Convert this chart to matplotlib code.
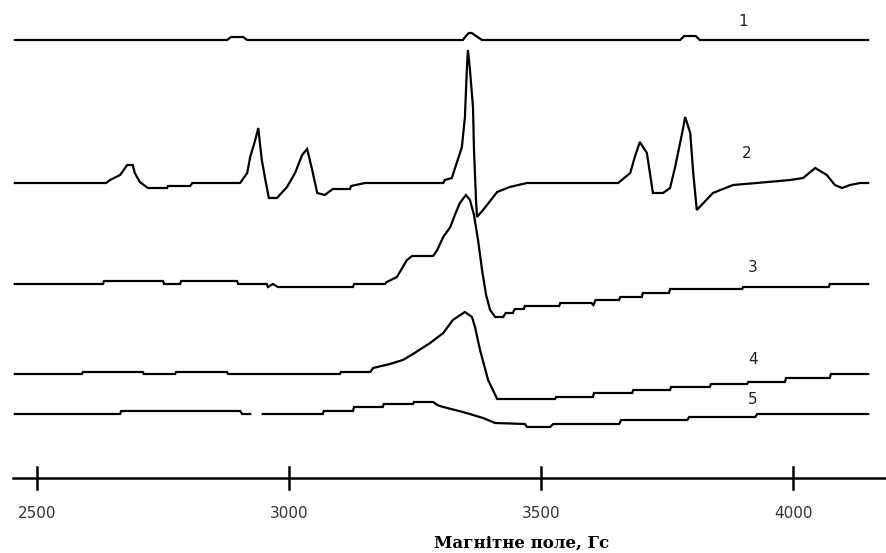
import numpy as np
import matplotlib.pyplot as plt

# EPR spectra, field in Gauss, signal in arbitrary units relative to baseline
field_1 = [2456, 2877, 2885, 2909, 2917, 3345, 3351, 3357, 3363, 3371, 3383,
           3776, 3784, 3807, 3815, 4149]
sig_1 = [0, 0, 3, 3, 0, 0, 4, 7, 7, 4, 0, 0, 4, 4, 0, 0]

field_2 = [2456, 2637, 2645, 2665, 2679, 2690, 2694, 2704, 2720, 2758, 2760, 2804,
           2808, 2903, 2917, 2923, 2933, 2939, 2946, 2952, 2960, 2976, 2996, 3012,
           3026, 3036, 3046, 3056, 3071, 3087, 3121, 3123, 3151, 3306, 3309, 3323,
           3343, 3349, 3353, 3355, 3359, 3365, 3367, 3371, 3373, 3385, 3413, 3438,
           3472, 3653, 3677, 3686, 3696, 3710, 3722, 3742, 3756, 3766, 3780, 3786,
           3796, 3802, 3809, 3841, 3861, 3881, 3928, 3994, 4020, 4044, 4067, 4083,
           4097, 4113, 4133, 4149]
sig_2 = [0, 0, 3, 8, 18, 18, 10, 1, -5, -5, -3, -3,
         0, 0, 10, 26, 43, 55, 23, 6, -15, -15, -4, 10,
         28, 34, 13, -10, -12, -6, -6, -3, 0, 0, 3, 5,
         36, 66, 116, 133, 113, 76, 33, -17, -34, -27, -9, -4,
         0, 0, 10, 26, 41, 30, -10, -10, -5, 16, 50, 66,
         50, 10, -27, -10, -6, -2, 0, 3, 5, 15, 8, -2,
         -5, -2, 0, 0]

field_3 = [2456, 2631, 2633, 2750, 2752, 2784, 2786, 2897, 2899, 2956, 2958, 2968,
           2978, 3127, 3129, 3190, 3194, 3214, 3234, 3244, 3286, 3294, 3306, 3320,
           3329, 3339, 3351, 3359, 3367, 3375, 3383, 3391, 3399, 3409, 3425, 3430,
           3444, 3448, 3466, 3468, 3536, 3538, 3600, 3604, 3608, 3655, 3657, 3700,
           3702, 3754, 3756, 3899, 3901, 4071, 4073, 4149]
sig_3 = [0, 0, 3, 3, 0, 0, 3, 3, 0, 0, -3, 0,
         -3, -3, 0, 0, 2, 7, 24, 28, 28, 34, 47, 57,
         69, 81, 89, 84, 69, 44, 14, -11, -26, -33, -33, -29,
         -29, -25, -25, -22, -22, -19, -19, -21, -16, -16, -13, -13,
         -9, -9, -5, -5, -3, -3, 0, 0]

field_4 = [2456, 2589, 2591, 2710, 2712, 2774, 2776, 2877, 2879, 3101, 3103, 3161,
           3167, 3200, 3226, 3246, 3280, 3306, 3325, 3349, 3363, 3369, 3379, 3395,
           3413, 3528, 3530, 3603, 3605, 3681, 3683, 3756, 3758, 3835, 3837, 3909,
           3911, 3984, 3986, 4073, 4075, 4149]
sig_4 = [0, 0, 2, 2, 0, 0, 2, 2, 0, 0, 2, 2,
         6, 10, 14, 20, 31, 41, 54, 62, 57, 47, 24, -6,
         -25, -25, -23, -23, -19, -19, -16, -16, -13, -13, -10, -10,
         -8, -8, -4, -4, 0, 0]

field_5 = [2456, 2665, 2667, 2903, 2907, 2923, 2935, 2948, 3067, 3069, 3127, 3129,
           3186, 3188, 3246, 3248, 3286, 3294, 3306, 3345, 3385, 3409, 3468, 3472,
           3518, 3524, 3655, 3659, 3790, 3794, 3925, 3929, 4149]
sig_5 = [0, 0, 3, 3, 0, 0, np.nan, 0, 0, 3, 3, 7,
         7, 10, 10, 12, 12, 9, 7, 2, -4, -9, -10, -13,
         -13, -10, -10, -6, -6, -3, -3, 0, 0]

fields = [field_1, field_2, field_3, field_4, field_5]
signals = [sig_1, sig_2, sig_3, sig_4, sig_5]
names = ['1', '2', '3', '4', '5']
offsets = [513, 370, 269, 179, 139]
label_pos = [(3901, 532), (3909, 400), (3919, 286), (3921, 193), (3919, 154)]

ticks = [2500, 3000, 3500, 4000]
tick_labels = ['2500', '3000', '3500', '4000']
xlabel = 'Магнітне поле, Гс'

fig = plt.figure(figsize=(8.87, 5.53), dpi=100)
ax = fig.add_axes([0, 0, 1, 1])
ax.set_xlim(2426.6, 4186.4)
ax.set_ylim(0, 553)
ax.axis('off')

for f, s, off, name, pos in zip(fields, signals, offsets, names, label_pos):
    ax.plot(f, np.array(s, dtype=float) + off, color='black', lw=1.6,
            solid_joinstyle='miter')
    ax.text(pos[0], pos[1], name, fontsize=11, ha='center', va='center',
            color='#222222')

# field axis
axis_y = 75
ax.plot([2452, 4186.4], [axis_y, axis_y], color='black', lw=1.8)
for t, lab in zip(ticks, tick_labels):
    ax.plot([t, t], [axis_y - 11, axis_y + 11], color='black', lw=1.8)
    ax.text(t, 40, lab, fontsize=11, ha='center', va='center', color='#333333')

ax.text(3461, 10, xlabel, fontsize=12, fontweight='bold', family='DejaVu Serif',
        ha='center', va='center')

fig.savefig('out.png', dpi=100)
